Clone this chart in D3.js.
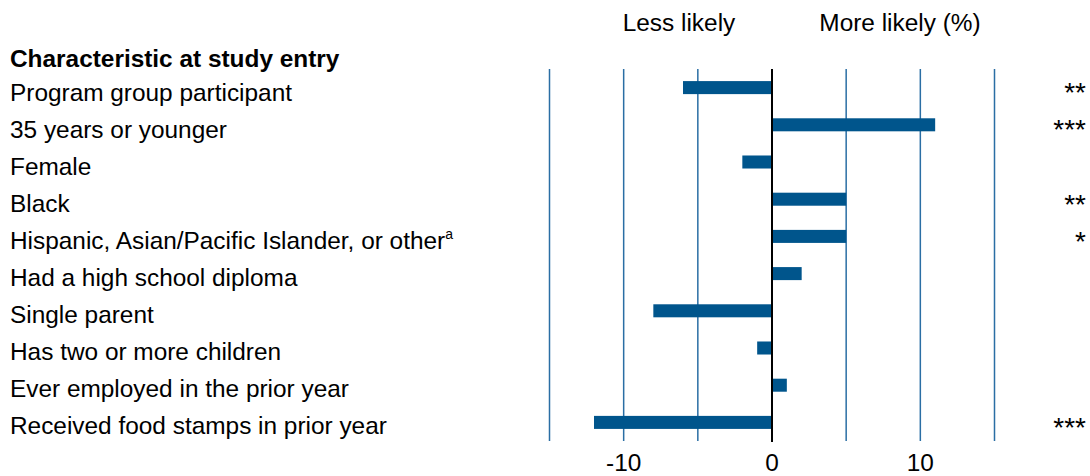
<!DOCTYPE html>
<html>
<head>
<meta charset="utf-8">
<script src="https://cdn.jsdelivr.net/npm/d3@7"></script>
<style>
    body { margin: 0; background: #fff; }
    text { font-family: "Liberation Sans", Arial, sans-serif; fill: #000; }
</style>
</head>
<body>
<div id="chart"></div>
<script>
var categories = [
    "Program group participant",
    "35 years or younger",
    "Female",
    "Black",
    "Hispanic, Asian/Pacific Islander, or other",
    "Had a high school diploma",
    "Single parent",
    "Has two or more children",
    "Ever employed in the prior year",
    "Received food stamps in prior year"
];
var values = [-6, 11, -2, 5, 5, 2, -8, -1, 1, -12];
var stars = ["**", "***", "", "**", "*", "", "", "", "", "***"];
var superscripts = ["", "", "", "", "a", "", "", "", "", ""];
var gridTicks = [-15, -10, -5, 5, 10, 15];
var tickLabels = [-10, 0, 10];

var svgWidth = 1090;
var svgHeight = 476;
var fontSize = 24.4;

var svg = d3.select("#chart").append("svg")
    .attr("width", svgWidth)
    .attr("height", svgHeight);

// x scale: -15 .. 15 across the plot area
var xScale = d3.scaleLinear().domain([-15, 15]).range([549.5, 994.5]);
var yScale = d3.scaleBand().domain(categories).range([69, 441]).paddingInner(0.65).paddingOuter(0.325);

// vertical grid lines
svg.append("g")
    .selectAll("line").data(gridTicks).enter().append("line")
    .attr("x1", function(d) { return xScale(d); })
    .attr("x2", function(d) { return xScale(d); })
    .attr("y1", 69)
    .attr("y2", 441)
    .attr("stroke", "#2a6ea4")
    .attr("stroke-width", 1.5);

// bars
svg.append("g")
    .selectAll("rect").data(values).enter().append("rect")
    .attr("x", function(d) { return xScale(Math.min(0, d)); })
    .attr("y", function(d, i) { return yScale(categories[i]); })
    .attr("width", function(d) { return Math.abs(xScale(d) - xScale(0)); })
    .attr("height", yScale.bandwidth())
    .attr("fill", "#00558c");

// zero line
svg.append("line")
    .attr("x1", xScale(0))
    .attr("x2", xScale(0))
    .attr("y1", 69)
    .attr("y2", 442)
    .attr("stroke", "#000")
    .attr("stroke-width", 2);

// x tick labels
svg.append("g")
    .selectAll("text").data(tickLabels).enter().append("text")
    .attr("x", function(d) { return xScale(d); })
    .attr("y", 471)
    .attr("text-anchor", "middle")
    .attr("font-size", fontSize)
    .text(function(d) { return d; });

// headers
svg.append("text")
    .attr("x", 679)
    .attr("y", 31)
    .attr("text-anchor", "middle")
    .attr("font-size", fontSize)
    .text("Less likely");

svg.append("text")
    .attr("x", 900)
    .attr("y", 31)
    .attr("text-anchor", "middle")
    .attr("font-size", fontSize)
    .text("More likely (%)");

svg.append("text")
    .attr("x", 10)
    .attr("y", 67)
    .attr("font-size", fontSize)
    .attr("font-weight", "bold")
    .text("Characteristic at study entry");

// category labels
var labels = svg.append("g")
    .selectAll("text").data(categories).enter().append("text")
    .attr("x", 10)
    .attr("y", function(d, i) { return yScale(d) + yScale.bandwidth() / 2 + 13.5 - i * 0.2; })
    .attr("font-size", fontSize);

labels.append("tspan").text(function(d) { return d; });
labels.append("tspan")
    .attr("font-size", 14)
    .attr("dy", -10)
    .text(function(d, i) { return superscripts[i]; });

// significance stars
svg.append("g")
    .selectAll("text").data(stars).enter().append("text")
    .attr("x", 1086)
    .attr("y", function(d, i) { return yScale(categories[i]) + yScale.bandwidth() / 2 + 14.5; })
    .attr("text-anchor", "end")
    .attr("font-size", 28)
    .text(function(d) { return d; });
</script>
</body>
</html>
